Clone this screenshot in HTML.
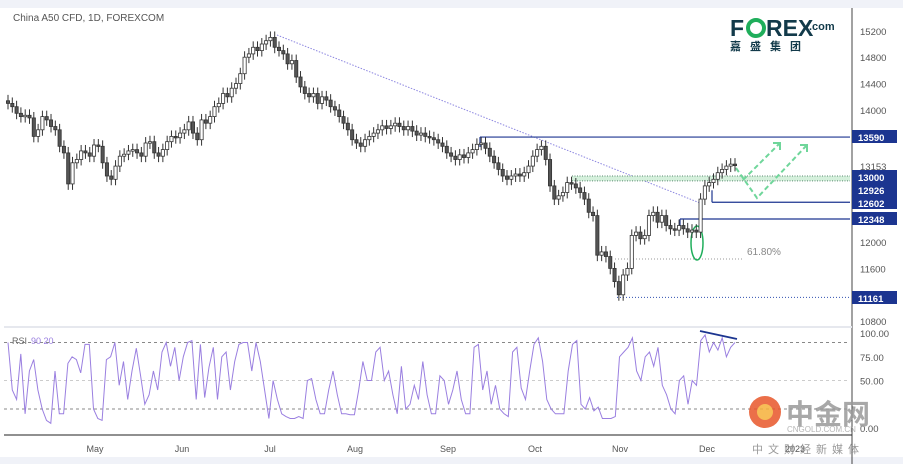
<!DOCTYPE html>
<html><head><meta charset="utf-8"><style>
html,body{margin:0;padding:0;background:#fff;}
svg{display:block;font-family:"Liberation Sans","Noto Sans CJK SC",sans-serif;}
</style></head><body>
<svg id="chart" width="903" height="464" viewBox="0 0 903 464">
<rect x="0" y="0" width="903" height="464" fill="#fff"/>
<rect x="0" y="0" width="903" height="8" fill="#f0f2f8"/>
<rect x="0" y="457" width="903" height="7" fill="#f0f2f8"/>
<line x1="852" y1="8" x2="852" y2="464" stroke="#444" stroke-width="1"/>
<line x1="4" y1="327" x2="852" y2="327" stroke="#e6e8ee" stroke-width="2"/>
<line x1="4" y1="435" x2="852" y2="435" stroke="#222" stroke-width="1"/>
<text x="13" y="21" font-size="10" fill="#555">China A50 CFD, 1D, FOREXCOM</text>
<g id="overlay"></g>
<g id="candles"></g>
<g id="rsi"></g>
<g id="yaxis"></g>
<g id="xaxis"></g>
<g>
<text x="730" y="36" font-size="23" font-weight="bold" fill="#123a4a">F</text>
<circle cx="756" cy="28" r="8" fill="none" stroke="#1fae5b" stroke-width="4"/>
<text x="766" y="36" font-size="23" font-weight="bold" fill="#123a4a">REX</text>
<text x="809" y="30" font-size="11" font-weight="bold" fill="#123a4a">.com</text>
<text x="730" y="50" font-size="11" font-weight="bold" fill="#123a4a" letter-spacing="9">嘉盛集团</text>
</g>
<g opacity="0.85">
<circle cx="765" cy="412" r="16" fill="#e8562a"/>
<circle cx="765" cy="412" r="8" fill="#f6b13a"/>
<text x="786" y="424" font-size="28" font-weight="bold" fill="#999">中金网</text>
<text x="787" y="432" font-size="8" fill="#aaa">CNGOLD.COM.CN</text>
<text x="752" y="453" font-size="11" fill="#888" letter-spacing="5">中文财经新媒体</text>
</g>
</svg>
<script>
const closes=[14100,14050,13950,13900,13920,13880,13600,13700,13900,13850,13750,13700,13450,13350,12880,13200,13250,13380,13350,13300,13470,13450,13200,13000,12950,13150,13300,13330,13380,13400,13350,13300,13500,13520,13350,13300,13400,13520,13600,13580,13650,13700,13820,13650,13550,13850,13800,13900,14050,14100,14250,14200,14330,14400,14550,14800,14850,14950,14900,15000,15050,15100,14950,14900,14850,14700,14750,14500,14350,14250,14200,14250,14100,14200,14150,14050,14000,13900,13800,13700,13550,13500,13450,13550,13600,13650,13700,13760,13720,13760,13800,13750,13700,13750,13680,13620,13650,13600,13580,13550,13500,13450,13350,13300,13250,13320,13280,13350,13400,13480,13500,13420,13300,13200,13100,13000,12950,13000,13030,13000,13050,13150,13300,13400,13450,13250,12850,12650,12700,12750,12900,12880,12820,12750,12650,12450,12400,11800,11850,11780,11600,11400,11200,11500,11600,12100,12150,12050,12100,12400,12450,12300,12400,12250,12200,12180,12250,12200,12150,12180,12150,12650,12850,12900,12950,13050,13100,13150,13180,13160];
const rsiVals=[90,40,30,78,15,60,72,40,20,8,5,60,15,15,68,75,72,58,88,88,20,10,8,72,75,90,45,70,30,60,84,55,25,35,60,40,80,90,65,85,50,75,90,92,30,88,32,64,85,30,75,80,40,70,88,90,90,60,90,70,40,10,50,30,15,12,10,10,12,10,50,52,30,15,15,40,60,35,15,15,14,14,40,70,50,50,80,85,50,60,35,15,65,20,25,45,30,70,35,15,15,55,50,25,40,60,30,15,15,85,88,40,60,25,45,20,15,12,80,85,42,30,60,88,95,70,30,20,15,15,15,60,88,92,25,20,32,18,22,10,10,10,12,75,80,85,95,60,50,75,80,65,85,45,35,20,15,50,55,25,50,45,92,98,80,90,82,95,75,85,90];
const priceTicks=[15200,14800,14400,14000,12000,11600,10800];
const levels=[13590,13000,12926,12602,12348,11161];
const rsiTicks=[100,75,50,0];
const months=["May","Jun","Jul","Aug","Sep","Oct","Nov","Dec","2023"];
const monthX=[95,182,270,355,448,535,620,707,795];
const NS="http://www.w3.org/2000/svg";
function py(p){return 110+(14000-p)*0.066;}
function cx(i){return 8+i*(727/(closes.length-1));}
function rx(i){return 8+i*(727/(rsiVals.length-1));}
function ry(v){return 428-v*0.95;}
function mk(t,a,parent){const e=document.createElementNS(NS,t);for(const k in a)e.setAttribute(k,a[k]);parent.appendChild(e);return e;}
const cg=document.getElementById('candles');
for(let i=0;i<closes.length;i++){
 const o=i?closes[i-1]:closes[i]+40,c=closes[i];
 const hi=Math.max(o,c)+90,lo=Math.min(o,c)-90;
 const x=cx(i);
 const w=mk('line',{x1:x,y1:py(hi),x2:x,y2:py(lo),stroke:'#333','stroke-width':1},cg);
 
 
 const top=py(Math.max(o,c)),h=Math.max(1.5,Math.abs(py(o)-py(c)));
 const b=mk('rect',{x:x-1.6,y:top,width:3.2,height:h,fill:c<o?'#555':'#fff',stroke:'#333','stroke-width':0.8},cg);
 
 
}
const ov=document.getElementById('overlay');
mk('line',{x1:277,y1:35,x2:700,y2:203,stroke:'#8c86e0','stroke-width':1,'stroke-dasharray':'1.5,1.5'},ov);
mk('rect',{x:572,y:py(13000),width:278,height:py(12926)-py(13000),fill:'#d5f0dc'},ov);
mk('line',{x1:572,y1:py(13000),x2:850,y2:py(13000),stroke:'#5a8a70','stroke-dasharray':'1,1.5'},ov);
mk('line',{x1:572,y1:py(12926),x2:850,y2:py(12926),stroke:'#5a8a70','stroke-dasharray':'1,1.5'},ov);
mk('line',{x1:480,y1:py(13590),x2:850,y2:py(13590),stroke:'#1c3590','stroke-width':1.2},ov);
mk('line',{x1:480,y1:py(13590),x2:480,y2:py(13590)+10,stroke:'#1c3590','stroke-width':1.2},ov);
mk('line',{x1:712,y1:py(12602),x2:850,y2:py(12602),stroke:'#1c3590','stroke-width':1.2},ov);
mk('line',{x1:712,y1:py(12602),x2:712,y2:py(12602)-12,stroke:'#1c3590','stroke-width':1.2},ov);
mk('line',{x1:680,y1:py(12348),x2:850,y2:py(12348),stroke:'#1c3590','stroke-width':1.2},ov);
mk('line',{x1:680,y1:py(12348),x2:680,y2:py(12348)+10,stroke:'#1c3590','stroke-width':1.2},ov);
mk('line',{x1:617,y1:py(11161),x2:850,y2:py(11161),stroke:'#3050b0','stroke-dasharray':'1,2'},ov);
mk('line',{x1:615,y1:259,x2:742,y2:259,stroke:'#999','stroke-dasharray':'1,2'},ov);
const t618=mk('text',{x:747,y:255,'font-size':10,fill:'#888'},ov);t618.textContent='61.80%';
mk('ellipse',{cx:697,cy:243,rx:6,ry:17,fill:'none',stroke:'#1fae5b','stroke-width':1.5},ov);
mk('polyline',{points:'736,168 757,198 807,145',fill:'none',stroke:'#6fd69a','stroke-width':2,'stroke-dasharray':'5,3'},ov);
mk('polyline',{points:'743,180 780,143',fill:'none',stroke:'#6fd69a','stroke-width':2,'stroke-dasharray':'5,3'},ov);
mk('polyline',{points:'773,143 780,143 780,150',fill:'none',stroke:'#6fd69a','stroke-width':2},ov);
mk('polyline',{points:'800,145 807,145 807,152',fill:'none',stroke:'#6fd69a','stroke-width':2},ov);
const ya=document.getElementById('yaxis');
priceTicks.forEach(p=>{const t=mk('text',{x:860,y:py(p)+4,'font-size':9.5,fill:'#555'},ya);t.textContent=p;
 });
const t13=mk('text',{x:860,y:170,'font-size':9.5,fill:'#555'},ya);t13.textContent='13153';
const labelY=[137,177,190,203,219,298];
levels.forEach((p,i)=>{const g=mk('g',{},ya);
 
 mk('rect',{x:852,y:labelY[i]-7,width:45,height:13,fill:'#1c3590'},g);
 const t=mk('text',{x:858,y:labelY[i]+4,'font-size':9.5,'font-weight':'bold',fill:'#fff'},g);t.textContent=p;});
const rg=document.getElementById('rsi');
[[90,'#888'],[20,'#888'],[50,'#ccc']].forEach(([v,c])=>mk('line',{x1:4,y1:ry(v),x2:850,y2:ry(v),stroke:c,'stroke-dasharray':'3,3'},rg));
let pts=rsiVals.map((v,i)=>rx(i).toFixed(1)+','+ry(v).toFixed(1)).join(' ');
const pl=mk('polyline',{points:pts,fill:'none',stroke:'#9a7fe0','stroke-width':1},rg);

mk('line',{x1:700,y1:331,x2:737,y2:339,stroke:'#1c3590','stroke-width':1.8},rg);
const rl=mk('text',{x:12,y:344,'font-size':9,fill:'#666'},rg);rl.textContent='RSI ';
const rl2=mk('text',{x:31,y:344,'font-size':9,fill:'#9a7fe0'},rg);rl2.textContent='90 20';
rsiTicks.forEach(v=>{const t=mk('text',{x:860,y:ry(v)+4,'font-size':9.5,fill:'#555'},rg);t.textContent=v.toFixed(2);
 });
const xa=document.getElementById('xaxis');
months.forEach((m,i)=>{const t=mk('text',{x:monthX[i],y:452,'font-size':9,fill:'#555','text-anchor':'middle'},xa);t.textContent=m;
 });
</script>
</body></html>
